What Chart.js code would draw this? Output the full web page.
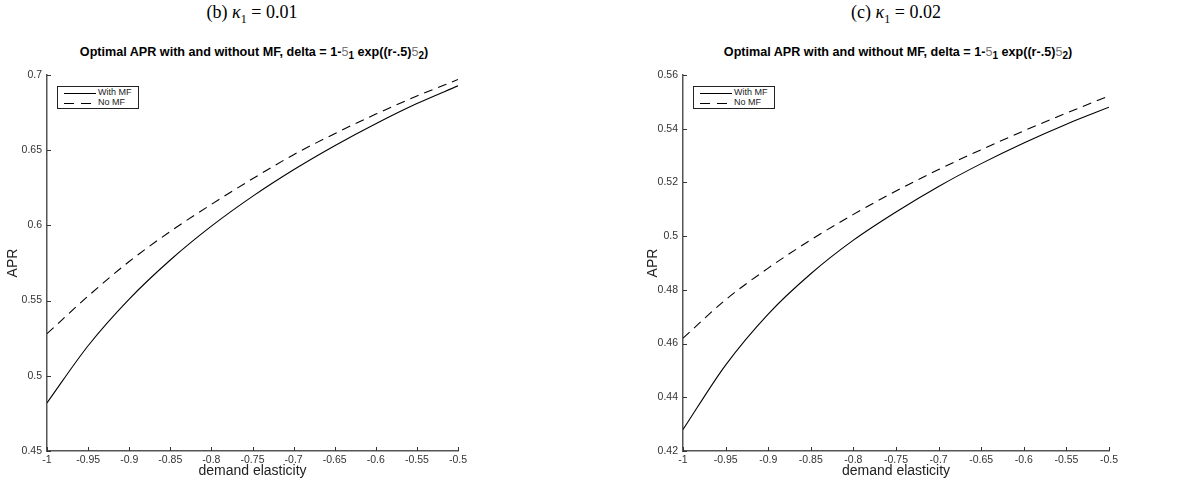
<!DOCTYPE html>
<html>
<head>
<meta charset="utf-8">
<script src="https://cdn.jsdelivr.net/npm/chart.js@4.4.1/dist/chart.umd.min.js"></script>
<style>
    body { margin: 0; background: #fff; width: 1185px; height: 483px; position: relative; overflow: hidden; }
    canvas { position: absolute; top: 0; }
    .caption { position: absolute; top: 2px; font-family: "Liberation Serif", serif; font-size: 18px; color: #000; transform: translateX(-50%); white-space: nowrap; }
    .title { position: absolute; top: 45px; font-family: "Liberation Sans", Arial, sans-serif; font-size: 12.6px; font-weight: bold; color: #000; transform: translateX(-50%); white-space: nowrap; }
    .title .sym { font-weight: normal; color: #777; }
    .title sub { font-size: 10px; vertical-align: -3px; }
    .legend { position: absolute; top: 86px; width: 80px; height: 21px; border: 1px solid #222; background: #fff; font-family: "Liberation Sans", Arial, sans-serif; font-size: 9px; color: #222; }
    .legend div { position: relative; height: 9px; line-height: 9px; padding-left: 40px; margin-top: 1px; }
    .legend span { position: absolute; left: 6px; top: 5px; width: 32px; height: 1px; background: #000; }
    .legend span.dash { background: repeating-linear-gradient(to right, #000 0 10px, transparent 10px 17px); }
</style>
</head>
<body>
<div class="caption" style="left:252px">(b) <i>κ</i><sub style="font-size:12px">1</sub> = 0.01</div>
<div class="caption" style="left:896px">(c) <i>κ</i><sub style="font-size:12px">1</sub> = 0.02</div>
<div class="title" style="left:254px">Optimal APR with and without MF, delta = 1-<span class="sym">5</span><sub>1</sub> exp((r-.5)<span class="sym">5</span><sub>2</sub>)</div>
<div class="title" style="left:898px">Optimal APR with and without MF, delta = 1-<span class="sym">5</span><sub>1</sub> exp((r-.5)<span class="sym">5</span><sub>2</sub>)</div>
<canvas id="chartB" width="600" height="483" style="left:0;width:600px;height:483px"></canvas>
<canvas id="chartC" width="585" height="483" style="left:600px;width:585px;height:483px"></canvas>
<div class="legend" style="left:57px"><div><span></span>With MF</div><div><span class="dash"></span>No MF</div></div>
<div class="legend" style="left:693px"><div><span></span>With MF</div><div><span class="dash"></span>No MF</div></div>
<script>
// demand elasticity grid (x) and tick values
const elasticity = [-1, -0.95, -0.9, -0.85, -0.8, -0.75, -0.7, -0.65, -0.6, -0.55, -0.5];
const xTicks = [-1, -0.95, -0.9, -0.85, -0.8, -0.75, -0.7, -0.65, -0.6, -0.55, -0.5];

// (b) kappa1 = 0.01
const aprWithMF_b = [0.482, 0.520, 0.551, 0.577, 0.5995, 0.6193, 0.637, 0.653, 0.6676, 0.681, 0.6928];
const aprNoMF_b = [0.528, 0.553, 0.576, 0.596, 0.614, 0.631, 0.647, 0.661, 0.674, 0.686, 0.697];
const yTicks_b = [0.45, 0.5, 0.55, 0.6, 0.65, 0.7];

// (c) kappa1 = 0.02
const aprWithMF_c = [0.428, 0.452, 0.471, 0.486, 0.4985, 0.509, 0.5185, 0.527, 0.5347, 0.5417, 0.548];
const aprNoMF_c = [0.462, 0.4763, 0.4881, 0.4986, 0.5081, 0.5168, 0.5248, 0.5322, 0.5392, 0.5458, 0.5522];
const yTicks_c = [0.42, 0.44, 0.46, 0.48, 0.5, 0.52, 0.54, 0.56];

const seriesLabels = ['With MF', 'No MF'];

// small inward tick marks, matlab style
const innerTicks = {
    id: 'innerTicks',
    afterDatasetsDraw(chart) {
        const ctx = chart.ctx;
        const area = chart.chartArea;
        ctx.save();
        ctx.strokeStyle = '#333';
        ctx.lineWidth = 1;
        chart.scales.x.ticks.forEach(t => {
            const px = Math.round(chart.scales.x.getPixelForValue(t.value)) + 0.5;
            ctx.beginPath();
            ctx.moveTo(px, area.bottom);
            ctx.lineTo(px, area.bottom - 4);
            ctx.stroke();
        });
        chart.scales.y.ticks.forEach(t => {
            const py = Math.round(chart.scales.y.getPixelForValue(t.value)) + 0.5;
            ctx.beginPath();
            ctx.moveTo(area.left, py);
            ctx.lineTo(area.left + 4, py);
            ctx.stroke();
        });
        ctx.restore();
    }
};

function fmt(v) {
    return String(+v.toFixed(2));
}

function makeChart(id, withMF, noMF, yTicks, pad, yWidth) {
    const ctx = document.getElementById(id).getContext('2d');
    return new Chart(ctx, {
        type: 'line',
        data: {
            datasets: [
                {
                    label: seriesLabels[0],
                    data: elasticity.map((x, i) => ({ x: x, y: withMF[i] })),
                    borderColor: '#000',
                    borderWidth: 1.1,
                    pointRadius: 0,
                    cubicInterpolationMode: 'monotone'
                },
                {
                    label: seriesLabels[1],
                    data: elasticity.map((x, i) => ({ x: x, y: noMF[i] })),
                    borderColor: '#000',
                    borderWidth: 1.1,
                    borderDash: [9, 6],
                    pointRadius: 0,
                    cubicInterpolationMode: 'monotone'
                }
            ]
        },
        options: {
            responsive: false,
            animation: false,
            layout: { padding: pad },
            plugins: {
                legend: { display: false },
                tooltip: { enabled: false }
            },
            scales: {
                x: {
                    type: 'linear',
                    min: xTicks[0],
                    max: xTicks[xTicks.length - 1],
                    afterBuildTicks: s => { s.ticks = xTicks.map(v => ({ value: v })); },
                    afterFit: s => { s.height = 32; },
                    grid: { display: false, drawTicks: false },
                    border: { display: true, color: '#555', width: 1.5 },
                    ticks: {
                        color: '#333',
                        padding: 3,
                        maxRotation: 0,
                        autoSkip: false,
                        font: { family: 'Liberation Sans', size: 10.5 },
                        callback: v => fmt(v)
                    },
                    title: {
                        display: true,
                        text: 'demand elasticity',
                        color: '#222',
                        padding: { top: 0, bottom: 3 },
                        font: { family: 'Liberation Sans', size: 14 }
                    }
                },
                y: {
                    type: 'linear',
                    min: yTicks[0],
                    max: yTicks[yTicks.length - 1],
                    afterBuildTicks: s => { s.ticks = yTicks.map(v => ({ value: v })); },
                    afterFit: s => { s.width = yWidth; },
                    grid: { display: false, drawTicks: false },
                    border: { display: true, color: '#555', width: 1.5 },
                    ticks: {
                        color: '#333',
                        padding: 5,
                        autoSkip: false,
                        font: { family: 'Liberation Sans', size: 10.5 },
                        callback: v => fmt(v)
                    },
                    title: {
                        display: true,
                        text: 'APR',
                        color: '#222',
                        padding: { top: 5, bottom: 0 },
                        font: { family: 'Liberation Sans', size: 14 }
                    }
                }
            }
        },
        plugins: [innerTicks]
    });
}

makeChart('chartB', aprWithMF_b, aprNoMF_b, yTicks_b, { top: 75, right: 142, left: 0, bottom: 0 }, 47);
makeChart('chartC', aprWithMF_c, aprNoMF_c, yTicks_c, { top: 75, right: 76, left: 40, bottom: 0 }, 43);
</script>
</body>
</html>
